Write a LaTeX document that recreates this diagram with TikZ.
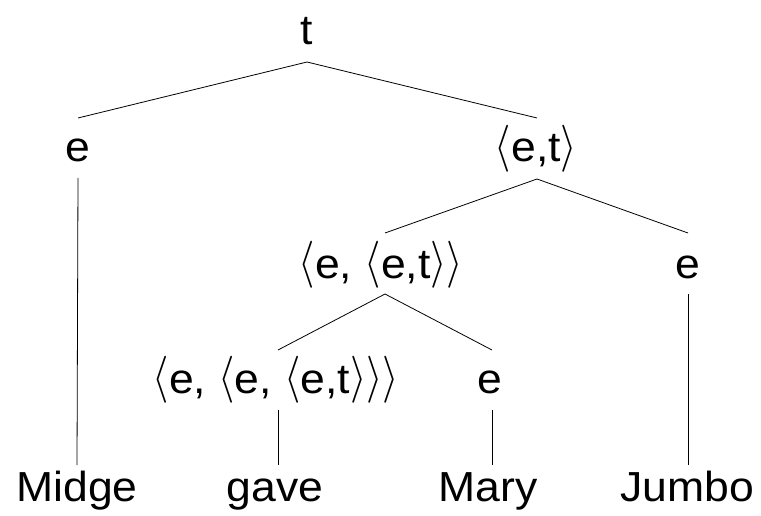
\documentclass[tikz,border=0pt]{standalone}
\usepackage{fix-cm}
\usepackage{graphicx}
\usepackage{fontspec}
\setmainfont[FakeStretch=1.06]{Liberation Sans}
\usetikzlibrary{calc}
\newcommand{\lan}{\raisebox{1.5pt}{\scalebox{1}[1.12]{$\langle$}}}
\newcommand{\ran}{\raisebox{1.5pt}{\scalebox{1}[1.12]{$\rangle$}}}
\tikzset{
  lbl/.style={anchor=base, inner sep=0pt, font=\fontsize{42}{50}\selectfont},
  edge/.style={line width=0.8pt, black}
}
\begin{document}
\begin{tikzpicture}[x=1pt,y=-1pt]
\useasboundingbox (0,0) rectangle (761,516);
% nodes
\node[lbl] (t)    at (307,45)  {t};
\node[lbl] (e1)   at (78,162)  {e};
\node[lbl] (et)   at (536,162) {\lan e,t\ran};
\node[lbl] (eet)  at (381,278) {\lan e, \lan e,t\ran\ran};
\node[lbl] (e2)   at (688,278) {e};
\node[lbl] (eeet) at (276,393) {\lan e, \lan e, \lan e,t\ran\ran\ran};
\node[lbl] (e3)   at (490,393) {e};
\node[lbl] (midge) at (77,501)  {Midge};
\node[lbl] (gave)  at (275,501) {gave};
\node[lbl] (mary)  at (488,501) {Mary};
\node[lbl] (jumbo) at (687,501) {Jumbo};
% branching edges
\draw[edge] ($(t.base)+(0,17)$) -- ($(e1.base)+(0,-44)$);
\draw[edge] ($(t.base)+(0,17)$) -- ($(et.base)+(1,-44)$);
\draw[edge] ($(et.base)+(1,17)$) -- ($(eet.base)+(4,-45)$);
\draw[edge] ($(et.base)+(1,17)$) -- ($(e2.base)+(0,-45)$);
\draw[edge] ($(eet.base)+(4,16)$) -- ($(eeet.base)+(2,-43)$);
\draw[edge] ($(eet.base)+(4,16)$) -- ($(e3.base)+(2,-43)$);
% unary edges
\draw[edge] ($(e1.base)+(0,16)$) -- ($(midge.base)+(0,-36)$);
\draw[edge] ($(e2.base)+(0,16)$) -- ($(jumbo.base)+(1,-36)$);
\draw[edge] ($(eeet.base)+(2,17)$) -- ($(gave.base)+(3,-36)$);
\draw[edge] ($(e3.base)+(2,17)$) -- ($(mary.base)+(4,-36)$);
\end{tikzpicture}
\end{document}
